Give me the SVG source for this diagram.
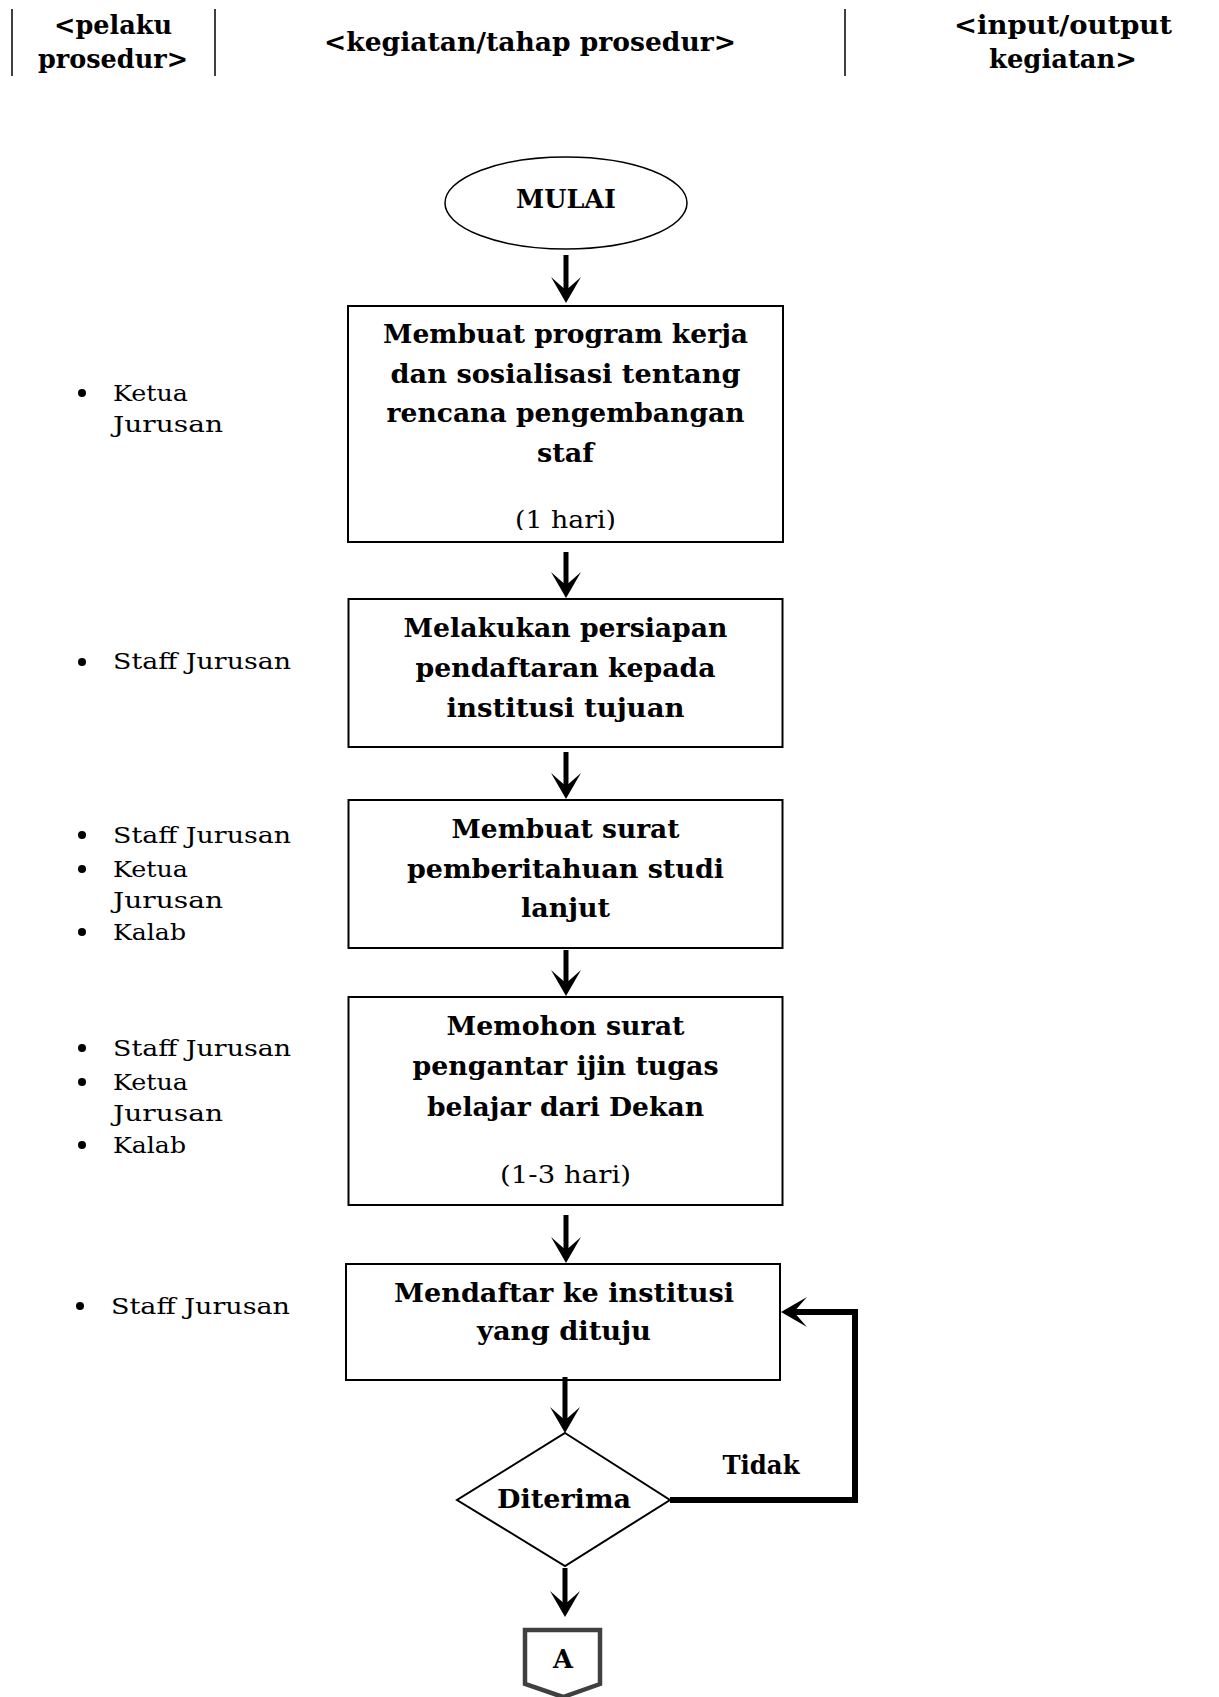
<svg xmlns="http://www.w3.org/2000/svg" width="1219" height="1697" viewBox="0 0 1219 1697">
<style>
.hdr{font-family:"DejaVu Serif","Liberation Serif",serif;font-weight:bold;font-size:26px;fill:#000;text-anchor:middle}
.bt{font-family:"DejaVu Serif","Liberation Serif",serif;font-weight:bold;font-size:26px;fill:#000;text-anchor:middle}
.rt{font-family:"DejaVu Serif","Liberation Serif",serif;font-size:25px;fill:#000;text-anchor:middle}
.lb{font-family:"DejaVu Serif","Liberation Serif",serif;font-size:23px;fill:#000}
.box{fill:#fff;stroke:#000;stroke-width:2}
.sep{stroke:#000;stroke-width:1.5}
.con{fill:none;stroke:#000;stroke-width:5}
.loop{fill:none;stroke:#000;stroke-width:6}
</style>
<defs>
<marker id="ah" markerUnits="userSpaceOnUse" markerWidth="34" markerHeight="34" viewBox="-16 -17 34 34" refX="0" refY="0" orient="auto">
<path d="M 14 0 L -12 -15 L -1 -2.5 L -1 2.5 L -12 15 Z" fill="#000"/>
</marker>
<clipPath id="c1"><rect x="348" y="306" width="435" height="224"/></clipPath>
</defs>
<rect width="1219" height="1697" fill="#fff"/>

<g id="header">
<line class="sep" x1="12" y1="9" x2="12" y2="76"/>
<line class="sep" x1="215" y1="9" x2="215" y2="76"/>
<line class="sep" x1="845" y1="9" x2="845" y2="76"/>
<text class="hdr" x="113" y="34" textLength="118" lengthAdjust="spacingAndGlyphs">&lt;pelaku</text>
<text class="hdr" x="113" y="68" textLength="150" lengthAdjust="spacingAndGlyphs">prosedur&gt;</text>
<text class="hdr" x="530" y="51" textLength="412" lengthAdjust="spacingAndGlyphs">&lt;kegiatan/tahap prosedur&gt;</text>
<text class="hdr" x="1063" y="34" textLength="218" lengthAdjust="spacingAndGlyphs">&lt;input/output</text>
<text class="hdr" x="1063" y="68" textLength="148" lengthAdjust="spacingAndGlyphs">kegiatan&gt;</text>
</g>

<g id="actors">
<circle cx="82" cy="393" r="4"/>
<text class="lb" x="113" y="401" textLength="75" lengthAdjust="spacingAndGlyphs">Ketua</text>
<text class="lb" x="113" y="432" textLength="110" lengthAdjust="spacingAndGlyphs">Jurusan</text>
<circle cx="82" cy="662" r="4"/>
<text class="lb" x="113" y="669" textLength="178" lengthAdjust="spacingAndGlyphs">Staff Jurusan</text>
<circle cx="82" cy="835" r="4"/>
<text class="lb" x="113" y="843" textLength="178" lengthAdjust="spacingAndGlyphs">Staff Jurusan</text>
<circle cx="82" cy="869" r="4"/>
<text class="lb" x="113" y="877" textLength="75" lengthAdjust="spacingAndGlyphs">Ketua</text>
<text class="lb" x="113" y="908" textLength="110" lengthAdjust="spacingAndGlyphs">Jurusan</text>
<circle cx="82" cy="932" r="4"/>
<text class="lb" x="113" y="940" textLength="73" lengthAdjust="spacingAndGlyphs">Kalab</text>
<circle cx="82" cy="1048" r="4"/>
<text class="lb" x="113" y="1056" textLength="178" lengthAdjust="spacingAndGlyphs">Staff Jurusan</text>
<circle cx="82" cy="1082" r="4"/>
<text class="lb" x="113" y="1090" textLength="75" lengthAdjust="spacingAndGlyphs">Ketua</text>
<text class="lb" x="113" y="1121" textLength="110" lengthAdjust="spacingAndGlyphs">Jurusan</text>
<circle cx="82" cy="1145" r="4"/>
<text class="lb" x="113" y="1153" textLength="73" lengthAdjust="spacingAndGlyphs">Kalab</text>
<circle cx="80" cy="1306" r="4"/>
<text class="lb" x="111" y="1314" textLength="179" lengthAdjust="spacingAndGlyphs">Staff Jurusan</text>
</g>

<g id="mulai">
<ellipse cx="566" cy="203" rx="121" ry="46" fill="#fff" stroke="#000" stroke-width="1.5"/>
<text class="bt" x="566" y="208" textLength="100" lengthAdjust="spacingAndGlyphs">MULAI</text>
</g>

<g id="step1">
<rect class="box" x="348" y="306" width="435" height="236"/>
<text class="bt" x="565.5" y="343" textLength="365" lengthAdjust="spacingAndGlyphs">Membuat program kerja</text>
<text class="bt" x="565.5" y="383" textLength="350" lengthAdjust="spacingAndGlyphs">dan sosialisasi tentang</text>
<text class="bt" x="565.5" y="422" textLength="358" lengthAdjust="spacingAndGlyphs">rencana pengembangan</text>
<text class="bt" x="565.5" y="462" textLength="57" lengthAdjust="spacingAndGlyphs">staf</text>
<text class="rt" x="565.5" y="528" clip-path="url(#c1)" textLength="101" lengthAdjust="spacingAndGlyphs">(1 hari)</text>
</g>

<g id="step2">
<rect class="box" x="348.5" y="599" width="434" height="148"/>
<text class="bt" x="565.5" y="637" textLength="324" lengthAdjust="spacingAndGlyphs">Melakukan persiapan</text>
<text class="bt" x="565.5" y="677" textLength="300" lengthAdjust="spacingAndGlyphs">pendaftaran kepada</text>
<text class="bt" x="565.5" y="717" textLength="238" lengthAdjust="spacingAndGlyphs">institusi tujuan</text>
</g>

<g id="step3">
<rect class="box" x="348.5" y="800" width="434" height="148"/>
<text class="bt" x="565.5" y="838" textLength="228" lengthAdjust="spacingAndGlyphs">Membuat surat</text>
<text class="bt" x="565.5" y="878" textLength="317" lengthAdjust="spacingAndGlyphs">pemberitahuan studi</text>
<text class="bt" x="565.5" y="917" textLength="89" lengthAdjust="spacingAndGlyphs">lanjut</text>
</g>

<g id="step4">
<rect class="box" x="348.5" y="997" width="434" height="208"/>
<text class="bt" x="565.5" y="1035" textLength="238" lengthAdjust="spacingAndGlyphs">Memohon surat</text>
<text class="bt" x="565.5" y="1075" textLength="306" lengthAdjust="spacingAndGlyphs">pengantar ijin tugas</text>
<text class="bt" x="565.5" y="1116" textLength="277" lengthAdjust="spacingAndGlyphs">belajar dari Dekan</text>
<text class="rt" x="565.5" y="1183" textLength="131" lengthAdjust="spacingAndGlyphs">(1-3 hari)</text>
</g>

<g id="step5">
<rect class="box" x="346" y="1264" width="434" height="116"/>
<text class="bt" x="564" y="1302" textLength="340" lengthAdjust="spacingAndGlyphs">Mendaftar ke institusi</text>
<text class="bt" x="564" y="1340" textLength="174" lengthAdjust="spacingAndGlyphs">yang dituju</text>
</g>

<g id="decision">
<polygon points="565,1433 670,1500 565,1566 457,1500" fill="#fff" stroke="#000" stroke-width="2"/>
<text class="bt" x="564" y="1508" textLength="134" lengthAdjust="spacingAndGlyphs">Diterima</text>
</g>

<g id="connectorA">
<path d="M 525 1630 L 600 1630 L 600 1684 L 563 1697 L 525 1684 Z" fill="#fff" stroke="#404040" stroke-width="4.5"/>
<text class="bt" x="563" y="1668" textLength="20" lengthAdjust="spacingAndGlyphs">A</text>
</g>

<g id="connectors">
<line class="con" x1="566" y1="255" x2="566" y2="289" marker-end="url(#ah)"/>
<line class="con" x1="566" y1="552" x2="566" y2="584" marker-end="url(#ah)"/>
<line class="con" x1="566" y1="752" x2="566" y2="785" marker-end="url(#ah)"/>
<line class="con" x1="566" y1="950" x2="566" y2="982" marker-end="url(#ah)"/>
<line class="con" x1="566" y1="1215" x2="566" y2="1249" marker-end="url(#ah)"/>
<line class="con" x1="565" y1="1377" x2="565" y2="1419" marker-end="url(#ah)"/>
<line class="con" x1="565" y1="1568" x2="565" y2="1603" marker-end="url(#ah)"/>
<path class="loop" d="M 670 1500 L 855 1500 L 855 1312 L 795 1312" marker-end="url(#ah)"/>
<text class="bt" x="761" y="1474" textLength="77" lengthAdjust="spacingAndGlyphs">Tidak</text>
</g>
</svg>
